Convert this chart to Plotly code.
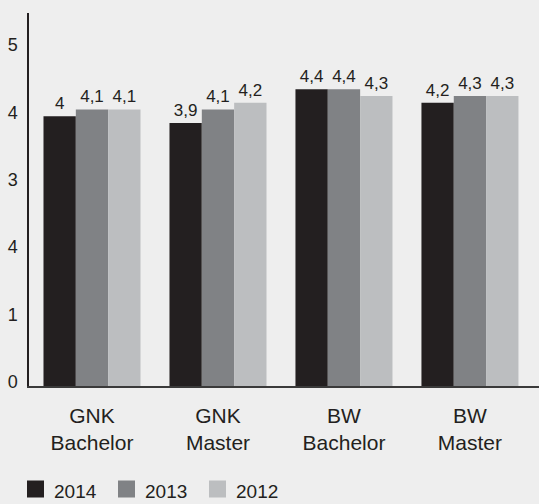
import plotly.graph_objects as go

# Survey means per programme and year
categories = ["GNK<br>Bachelor", "GNK<br>Master", "BW<br>Bachelor", "BW<br>Master"]
years = ["2014", "2013", "2012"]
values_2014 = [4.0, 3.9, 4.4, 4.2]
values_2013 = [4.1, 4.1, 4.4, 4.3]
values_2012 = [4.1, 4.2, 4.3, 4.3]
series = [values_2014, values_2013, values_2012]
colors = ["#231f20", "#808285", "#bcbec0"]

y_tickvals = [0, 1, 2, 3, 4, 5]
y_ticktext = ["0", "1", "4", "3", "4", "5"]

W, H = 539, 504
ML, MR, MT, MB = 29, 0, 13, 118
FONT = "Liberation Sans, Arial, sans-serif"
INK = "#231f20"
BG = "#eeeeee"


def fmt(v):
    s = f"{v:.1f}"
    if s.endswith(".0"):
        s = s[:-2]
    return s.replace(".", ",")


fig = go.Figure()
for name, vals, col in zip(years, series, colors):
    fig.add_trace(go.Bar(
        x=list(range(len(categories))), y=vals, name=name,
        marker=dict(color=col, line=dict(width=0)),
        text=[fmt(v) for v in vals], textposition="outside",
        textfont=dict(family=FONT, size=17, color=INK),
        cliponaxis=False, showlegend=False,
    ))

# Legend drawn as squares + labels below the category axis
pw = W - ML - MR
ph = H - MT - MB


def px_x(px):
    return (px - ML) / pw


def px_y(py):
    return (H - MB - py) / ph


shapes = []
annotations = []
sq_left = [27, 118, 209]
for i, (name, col) in enumerate(zip(years, colors)):
    x0 = sq_left[i]
    shapes.append(dict(type="rect", xref="paper", yref="paper",
                       x0=px_x(x0), x1=px_x(x0 + 17),
                       y0=px_y(497.5), y1=px_y(480.5),
                       fillcolor=col, line=dict(width=0)))
    annotations.append(dict(xref="paper", yref="paper", x=px_x(x0 + 25), y=px_y(491),
                            xanchor="left", yanchor="middle", showarrow=False,
                            text=name, font=dict(family=FONT, size=19, color=INK)))

fig.update_layout(
    width=W, height=H,
    margin=dict(l=ML, r=MR, t=MT, b=MB),
    paper_bgcolor=BG, plot_bgcolor=BG,
    barmode="group", bargap=0.23, bargroupgap=0,
    font=dict(family=FONT, color=INK),
    shapes=shapes, annotations=annotations,
    xaxis=dict(
        range=[-0.5, 3.548],
        tickmode="array", tickvals=list(range(len(categories))), ticktext=categories,
        tickfont=dict(family=FONT, size=21, color=INK),
        showgrid=False, zeroline=False, ticks="",
        showline=True, linecolor="#3a3a3a", linewidth=1.5,
        ticklabelstandoff=10,
        fixedrange=True,
    ),
    yaxis=dict(
        range=[0, 5.53],
        tickmode="array", tickvals=y_tickvals, ticktext=y_ticktext,
        tickfont=dict(family=FONT, size=18, color=INK),
        showgrid=False, zeroline=False, ticks="",
        showline=True, linecolor=INK, linewidth=1.5,
        ticklabelstandoff=6, ticklabelshift=-4,
        fixedrange=True,
    ),
)

fig.write_html("out.html", config={"displayModeBar": False})
